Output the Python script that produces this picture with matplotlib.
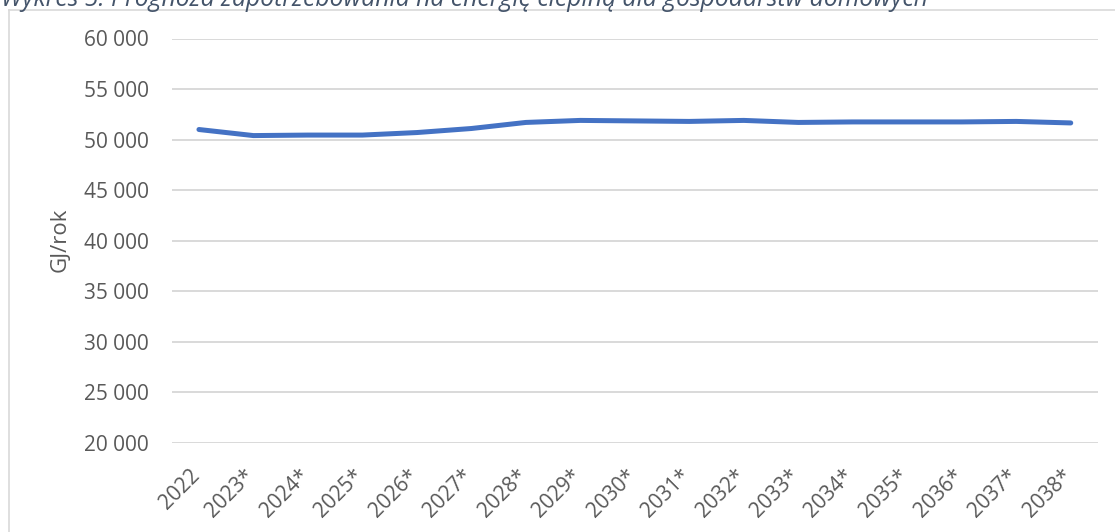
import matplotlib.pyplot as plt
from matplotlib.ticker import FuncFormatter
from matplotlib.lines import Line2D
from matplotlib.transforms import ScaledTranslation

# Wykres 5 - prognoza zapotrzebowania na energie cieplna (gospodarstwa domowe)
years = ["2022", "2023*", "2024*", "2025*", "2026*", "2027*", "2028*", "2029*", "2030*",
         "2031*", "2032*", "2033*", "2034*", "2035*", "2036*", "2037*", "2038*"]
demand_gj = [51000, 50400, 50450, 50450, 50700, 51100, 51700, 51900, 51850,
             51800, 51900, 51700, 51750, 51750, 51750, 51800, 51650]
y_ticks = [20000, 25000, 30000, 35000, 40000, 45000, 50000, 55000, 60000]

title = "Wykres 5. Prognoza zapotrzebowania na energię cieplną dla gospodarstw domowych"

W, H = 1115, 532
plt.rcParams['font.family'] = ['Open Sans', 'DejaVu Sans']

fig = plt.figure(figsize=(W / 100, H / 100), dpi=100)
ax = fig.add_axes([171.7 / W, 1 - 443 / H, (1098 - 171.7) / W, (443 - 38.5) / H])

x = list(range(len(years)))
ax.plot(x, demand_gj, color='#4472C4', linewidth=3.6, solid_capstyle='round',
        solid_joinstyle='round', zorder=3)

ax.set_xlim(-0.5, len(years) - 0.5)
ax.set_ylim(20000, 60000)
ax.set_yticks(y_ticks)
ax.yaxis.set_major_formatter(FuncFormatter(lambda v, p: f"{int(v):,}".replace(",", " ")))
ax.set_xticks(x)
ax.set_xticklabels(years, rotation=45, ha='right')

ax.grid(axis='y', color='#d9d9d9', linewidth=1.4)
ax.set_axisbelow(True)
for s in ax.spines.values():
    s.set_visible(False)
ax.tick_params(axis='both', length=0, labelsize=15, labelcolor='#595959')
ax.tick_params(axis='y', pad=16.5)
ax.tick_params(axis='x', pad=16)

# nudge rotated year labels a little to the right, like in the original
shift = ScaledTranslation(5 / 100, 0, fig.dpi_scale_trans)
for lbl in ax.get_xticklabels():
    lbl.set_transform(lbl.get_transform() + shift)

fig.text(60 / W, 1 - 240 / H, "GJ/rok", rotation=90, fontsize=16, color='#595959',
         ha='center', va='center')

# chart border (extends past the right/bottom edge of the crop)
fig.add_artist(Line2D([8.5 / W, 8.5 / W], [1 - 10 / H, 0], transform=fig.transFigure,
                      color='#d9d9d9', linewidth=1.2))
fig.add_artist(Line2D([8.5 / W, 1], [1 - 10 / H, 1 - 10 / H], transform=fig.transFigure,
                      color='#d9d9d9', linewidth=1.2))

fig.text(1 / W, 1 - 5.5 / H, title, fontsize=17.8, style='italic', color='#44546A',
         ha='left', va='baseline')

fig.savefig("out.png", dpi=100)
